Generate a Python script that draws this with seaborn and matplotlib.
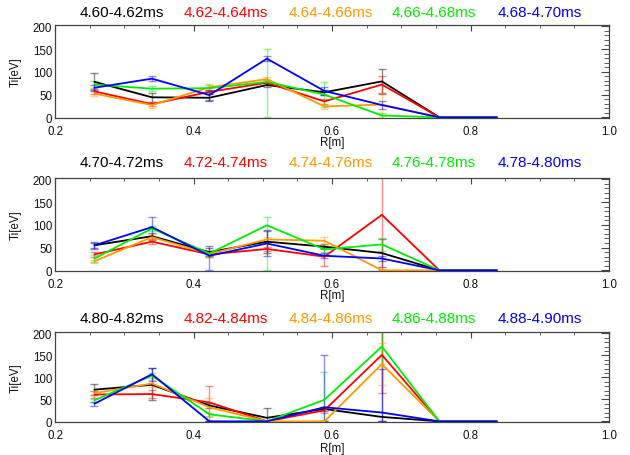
import numpy as np
import pandas as pd
import matplotlib
matplotlib.use("Agg")
import matplotlib.pyplot as plt
import seaborn as sns
from matplotlib.ticker import MultipleLocator

sns.set_theme(style="white")
plt.rcParams['font.family'] = ['Liberation Sans', 'DejaVu Sans']

# ---------------- data ----------------
R = [0.257, 0.340, 0.423, 0.506, 0.589, 0.672, 0.755, 0.838]
colors = ['#000000', '#ff0000', '#ff9900', '#00ee00', '#0000ff']

labels_p1 = ['4.60-4.62ms', '4.62-4.64ms', '4.64-4.66ms', '4.66-4.68ms', '4.68-4.70ms']
labels_p2 = ['4.70-4.72ms', '4.72-4.74ms', '4.74-4.76ms', '4.76-4.78ms', '4.78-4.80ms']
labels_p3 = ['4.80-4.82ms', '4.82-4.84ms', '4.84-4.86ms', '4.86-4.88ms', '4.88-4.90ms']

ti_p1 = [[78, 44, 43, 71, 55, 79, 0, 0],
         [57, 29, 56, 76, 35, 72, 0, 0],
         [52, 27, 66, 84, 24, 28, 0, 0],
         [72, 63, 64, 78, 50, 4, 0, 0],
         [65, 85, 49, 129, 58, 27, 0, 0]]
lo_p1 = [[20, 10, 8, 5, 5, 28, 0, 0],
         [5, 5, 5, 5, 5, 18, 0, 0],
         [5, 6, 8, 5, 5, 25, 0, 0],
         [8, 6, 8, 78, 28, 5, 0, 0],
         [5, 5, 12, 6, 8, 8, 0, 0]]
hi_p1 = [[20, 10, 8, 5, 5, 28, 0, 0],
         [5, 5, 5, 5, 5, 18, 0, 0],
         [5, 6, 8, 5, 5, 25, 0, 0],
         [8, 6, 8, 72, 28, 5, 0, 0],
         [5, 5, 12, 6, 8, 8, 0, 0]]

ti_p2 = [[55, 75, 40, 63, 52, 38, 0, 0],
         [35, 63, 35, 47, 30, 122, 0, 0],
         [20, 73, 36, 68, 65, 0, 0, 0],
         [26, 92, 37, 99, 46, 57, 0, 0],
         [55, 95, 32, 59, 32, 26, 0, 0]]
lo_p2 = [[5, 8, 8, 25, 5, 30, 0, 0],
         [5, 5, 5, 5, 20, 122, 0, 0],
         [3, 6, 6, 5, 8, 0, 0, 0],
         [8, 5, 5, 99, 5, 15, 0, 0],
         [8, 22, 32, 28, 5, 5, 0, 0]]
hi_p2 = [[5, 8, 8, 25, 5, 30, 0, 0],
         [5, 5, 5, 5, 20, 100, 0, 0],
         [3, 6, 6, 5, 8, 0, 0, 0],
         [8, 5, 5, 18, 5, 15, 0, 0],
         [8, 22, 22, 28, 5, 5, 0, 0]]

ti_p3 = [[72, 83, 36, 8, 28, 10, 0, 0],
         [61, 62, 43, 0, 25, 151, 0, 0],
         [64, 86, 32, 0, 0, 130, 0, 0],
         [48, 104, 16, 0, 49, 170, 0, 0],
         [40, 107, 0, 0, 32, 20, 0, 0]]
lo_p3 = [[12, 35, 5, 8, 5, 10, 0, 0],
         [8, 10, 43, 0, 5, 87, 0, 0],
         [5, 8, 22, 0, 0, 47, 0, 0],
         [3, 5, 3, 0, 49, 40, 0, 0],
         [5, 15, 0, 0, 32, 20, 0, 0]]
hi_p3 = [[12, 38, 5, 22, 5, 200, 0, 0],
         [8, 10, 37, 0, 5, 87, 0, 0],
         [5, 8, 22, 0, 0, 47, 0, 0],
         [3, 5, 3, 0, 63, 40, 0, 0],
         [5, 15, 0, 0, 119, 100, 0, 0]]

panels = [(labels_p1, ti_p1, lo_p1, hi_p1),
          (labels_p2, ti_p2, lo_p2, hi_p2),
          (labels_p3, ti_p3, lo_p3, hi_p3)]

# ---------------- figure ----------------
W, H = 630, 456
fig = plt.figure(figsize=(W / 100, H / 100), dpi=100)
rects = [[55 / W, 1 - 119 / H, 554 / W, 93 / H],
         [55 / W, 1 - 272 / H, 554 / W, 93 / H],
         [55 / W, 1 - 423 / H, 554 / W, 90 / H]]
title_y = [13, 163, 319]
title_x = [122, 226, 331, 434, 540]
xlabel_y = [-0.19, -0.19, -0.222]
edge = '#444444'

for (labels, ti, lo, hi), rect, ty, xly in zip(panels, rects, title_y, xlabel_y):
    ax = fig.add_axes(rect)
    rows = []
    for lab, vals in zip(labels, ti):
        for r, v in zip(R, vals):
            rows.append({'R': r, 'Ti': v, 'series': lab})
    df = pd.DataFrame(rows)
    # error bars (lighter)
    for k, (lab, vals) in enumerate(zip(labels, ti)):
        ax.errorbar(R[:6], vals[:6], yerr=[lo[k][:6], hi[k][:6]], fmt='none',
                    ecolor=colors[k], alpha=0.45, elinewidth=1.0, capsize=3,
                    capthick=1.0, zorder=2)
    sns.lineplot(data=df, x='R', y='Ti', hue='series', hue_order=labels,
                 palette=dict(zip(labels, colors)), sort=False, legend=False,
                 linewidth=1.3, ax=ax, zorder=3, errorbar=None)
    ax.set_xlim(0.2, 1.0)
    ax.set_ylim(-1.5, 203)
    ax.xaxis.set_minor_locator(MultipleLocator(0.05))
    ax.yaxis.set_minor_locator(MultipleLocator(10))
    ax.set_xticks([0.2, 0.4, 0.6, 0.8, 1.0])
    ax.set_xticklabels(['0.2', '0.4', '0.6', '0.8', '1.0'])
    ax.set_yticks([0, 50, 100, 150, 200])
    ax.set_yticklabels(['0', '50', '100', '150', '200'])
    ax.tick_params(axis='both', which='both', direction='in', top=True,
                   right=True, color=edge, labelsize=8.3, labelcolor='#111111')
    ax.tick_params(axis='y', which='major', length=6, width=0.8, pad=2)
    ax.tick_params(axis='y', which='minor', length=3.5, width=0.6)
    ax.tick_params(axis='x', which='major', length=4, width=0.8, pad=5)
    ax.tick_params(axis='x', which='minor', length=2.5, width=0.6)
    for s in ax.spines.values():
        s.set_color(edge)
        s.set_linewidth(0.9)
    ax.set_xlabel('R[m]', fontsize=8.3, color='#111111')
    ax.set_ylabel('Ti[eV]', fontsize=8.3, color='#111111')
    ax.xaxis.set_label_coords(0.5, xly)
    ax.yaxis.set_label_coords(-0.06, 0.5)
    ax.grid(False)
    for lab, c, tx in zip(labels, colors, title_x):
        fig.text(tx / W, 1 - ty / H, lab, color=c, fontsize=11,
                 ha='center', va='center')

fig.savefig('out.png', dpi=100)
